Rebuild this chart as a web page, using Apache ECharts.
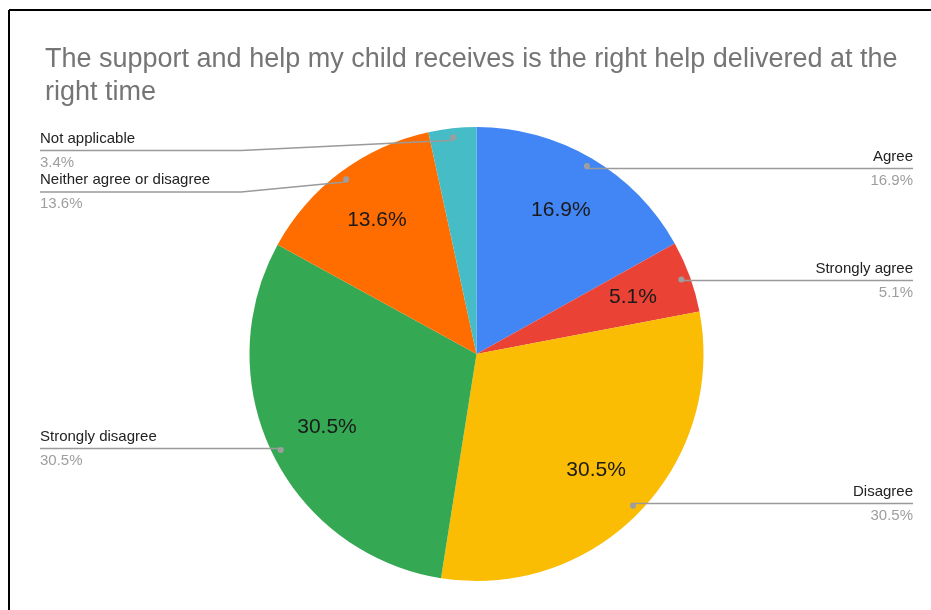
<!DOCTYPE html>
<html>
<head>
<meta charset="utf-8">
<script src="https://cdn.jsdelivr.net/npm/echarts@6/dist/echarts.min.js"></script>
<style>
  html, body { margin: 0; padding: 0; background: #fff; }
  #chart { width: 931px; height: 610px; }
</style>
</head>
<body>
<div id="chart"></div>
<script>
// Survey responses (share of respondents, %)
const categories = ['Agree', 'Strongly agree', 'Disagree', 'Strongly disagree', 'Neither agree or disagree', 'Not applicable'];
const shares = [16.9, 5.1, 30.5, 30.5, 13.6, 3.4];
const sliceColors = ['#4285f4', '#ea4335', '#fbbc04', '#34a853', '#ff6d01', '#46bdc6'];
const titleText = 'The support and help my child receives is the right help delivered at the\nright time';

const FONT = '"Liberation Sans", Arial, sans-serif';
const chart = echarts.init(document.getElementById('chart'), null, { renderer: 'canvas' });

// common box for the pie layers so their centres coincide
const box = { left: 40, right: 18, top: 127, bottom: 29, center: ['50%', '50%'] };
// label layer: same centre, slightly lower top bound for the stacked labels
const labelBox = { left: 40, right: 18, top: 130, bottom: 32, center: ['50%', '50%'] };

const fmtPct = v => v.toFixed(1) + '%';

const baseData = categories.map((name, i) => ({ name, value: shares[i] }));

const option = {
  animation: false,
  title: {
    text: titleText,
    left: 40,
    top: 38,
    textStyle: { fontFamily: FONT, fontSize: 27, fontWeight: 'normal', color: '#757575', lineHeight: 33 }
  },
  graphic: [
    { type: 'line', shape: { x1: 9, y1: 10, x2: 931, y2: 10 }, style: { stroke: '#000', lineWidth: 2 } },
    { type: 'line', shape: { x1: 9, y1: 10, x2: 9, y2: 610 }, style: { stroke: '#000', lineWidth: 2 } }
  ],
  series: [
    // visible slices
    Object.assign({
      type: 'pie', z: 2, radius: '100%', startAngle: 90, clockwise: true, silent: true,
      label: { show: false }, labelLine: { show: false },
      itemStyle: { borderWidth: 0 },
      data: baseData.map((d, i) => ({ name: d.name, value: d.value, itemStyle: { color: sliceColors[i] } }))
    }, box),
    // percentage labels inside the slices
    Object.assign({
      type: 'pie', z: 3, radius: [100, 227], startAngle: 90, silent: true,
      itemStyle: { color: 'transparent' },
      label: {
        show: true, position: 'inside', fontFamily: FONT, fontSize: 21, color: '#1a1a1a',
        formatter: p => fmtPct(p.value)
      },
      labelLine: { show: false },
      data: baseData.map(d => ({ name: d.name, value: d.value, label: { show: d.value >= 5 } }))
    }, box),
    // outside category labels with leader lines
    Object.assign({
      type: 'pie', z: 4, radius: 215, startAngle: 90, silent: true,
      itemStyle: { color: 'transparent' },
      label: {
        show: true, position: 'outside', alignTo: 'edge', edgeDistance: 0, distanceToLabelLine: 0,
        formatter: p => '{n|' + p.name + '}\n{v|' + fmtPct(p.value) + '}',
        rich: {
          n: { fontFamily: FONT, fontSize: 15, color: '#222222', lineHeight: 24 },
          v: { fontFamily: FONT, fontSize: 15, color: '#9e9e9e', lineHeight: 24 }
        }
      },
      labelLine: { show: true, length: 0, length2: 10, lineStyle: { color: '#9a9a9a', width: 1.5 } },
      labelLayout: function (params) {
        const pts = params.labelLinePoints;
        if (!pts) return {};
        const r = params.labelRect;
        const start = pts[0];
        const y = pts[pts.length - 1][1];
        const isLeft = r.x + r.width / 2 < start[0];
        const farX = isLeft ? r.x : r.x + r.width;
        let kinkX = isLeft ? r.x + 201 : r.x + r.width - 201;
        if (isLeft ? kinkX > start[0] : kinkX < start[0]) kinkX = start[0];
        return { labelLinePoints: [[start[0], start[1]], [kinkX, y], [farX, y]] };
      },
      data: baseData
    }, labelBox),
    // leader-line dots
    Object.assign({
      type: 'pie', z: 5, radius: [203, 227], startAngle: 90, silent: true,
      itemStyle: { color: 'transparent' },
      label: {
        show: true, position: 'inside', formatter: '{d|}', lineHeight: 6, padding: 0,
        align: 'center', verticalAlign: 'middle',
        rich: { d: { width: 6, height: 6, lineHeight: 6, verticalAlign: 'middle', align: 'center', borderRadius: 3, backgroundColor: '#9e9e9e' } }
      },
      labelLine: { show: false },
      data: baseData
    }, box)
  ]
};

chart.setOption(option);
</script>
</body>
</html>
